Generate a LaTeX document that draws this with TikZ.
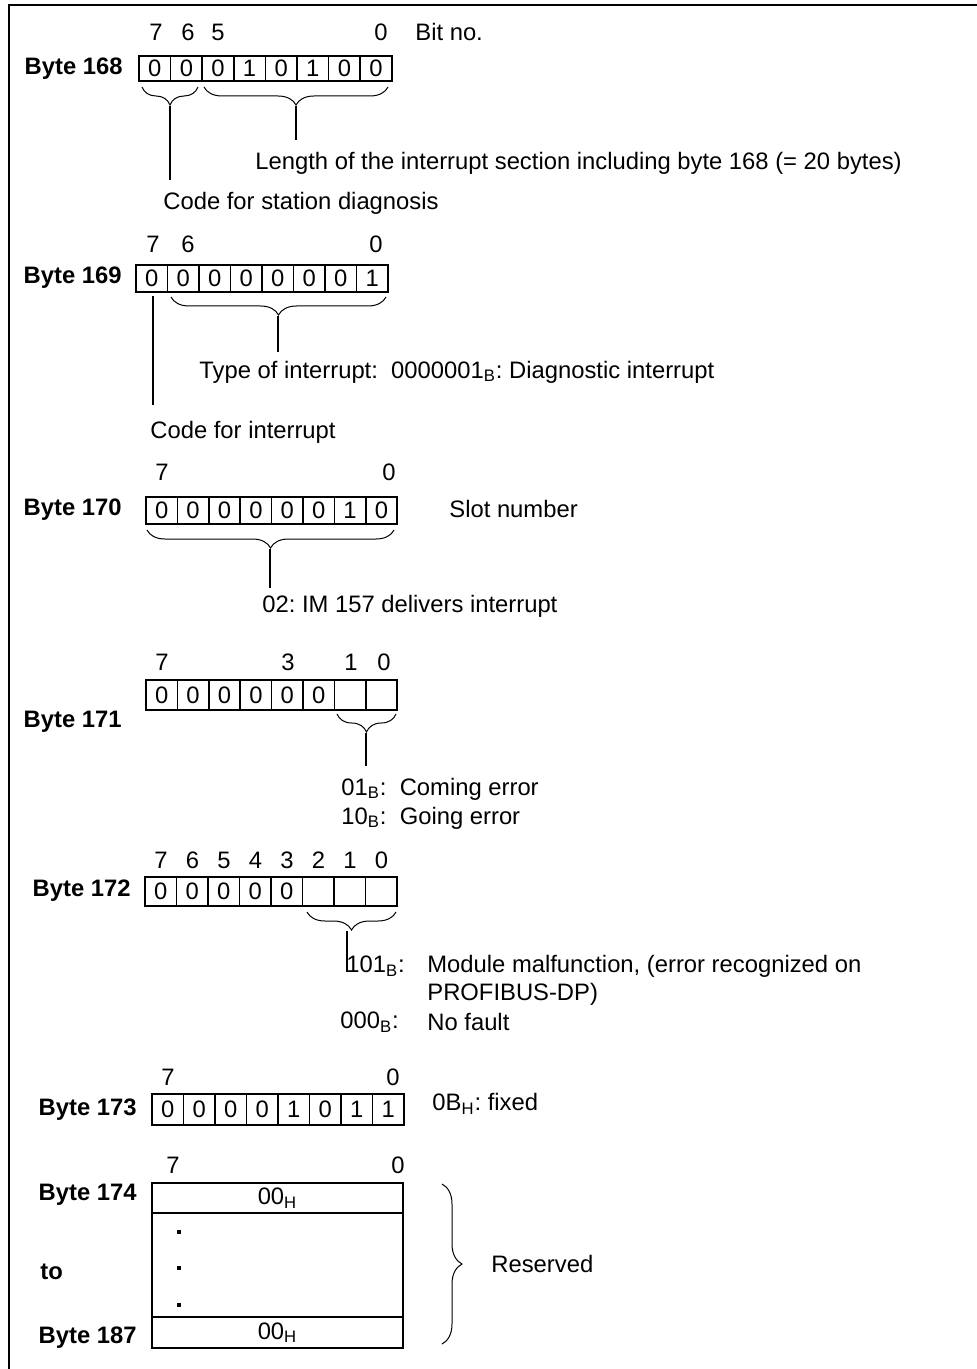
\documentclass[tikz,border=0pt]{standalone}
\usepackage{fontspec}
\setmainfont{Liberation Sans}
\usetikzlibrary{decorations.pathreplacing}
\frenchspacing
\newcommand{\diagfont}{\fontsize{11.9}{14}\selectfont}

\tikzset{
  bitcell/.style={draw, line width=0.75pt, inner sep=0pt, outer sep=0pt, anchor=north west},
  rowbox/.style={draw, line width=0.75pt, inner sep=0pt, outer sep=0pt, minimum width=125.5pt},
  bytelabel/.style={anchor=east, inner sep=0pt, font=\diagfont\bfseries},
  txt/.style={anchor=west, inner sep=0pt},
  bitno/.style={inner sep=0pt},
  curly/.style={decorate, decoration={brace, mirror, amplitude=9pt}, line width=0.5pt},
  lead/.style={line width=0.6pt},
  dotmark/.style={fill, inner sep=0pt, minimum size=1.8pt},
}

\begin{document}
\begin{tikzpicture}[x=0.5pt, y=-0.5pt, font=\diagfont]
    \useasboundingbox (0,0) rectangle (977,1369);
    % frame
    \draw[line width=1pt] (977,5) -- (9,5) -- (9,1369);

    % Byte 168
    \node[bytelabel] (lab168) at (123,69) {Byte 168};
    \foreach \b [count=\i from 0] in {0,0,0,1,0,1,0,0}
        \node[bitcell, minimum width=15.8pt, minimum height=12.5pt] (c168-\i) at ({139+31.6*\i},56) {\b};
    \node[bitno] (n168-7) at (156,32) {7};
    \node[bitno] (n168-6) at (188,32) {6};
    \node[bitno] (n168-5) at (218,32) {5};
    \node[bitno] (n168-0) at (381,32) {0};
    \node[txt] (bitnote) at (415,32) {Bit no.};
    \draw[curly] (142,87) -- (198,87);
    \draw[curly] (204,87) -- (388,87);
    \coordinate (tip168a) at (170,106);
    \coordinate (tip168b) at (296,106);
    \coordinate (end168a) at (170,180);
    \coordinate (end168b) at (296,140);
    \draw[lead] (tip168a) -- (end168a);
    \draw[lead] (tip168b) -- (end168b);
    \node[txt] (length) at (255,163) {Length of the interrupt section including byte 168 (= 20 bytes)};
    \node[txt] (station) at (163,203) {Code for station diagnosis};

    % Byte 169
    \node[bytelabel] (lab169) at (122,278) {Byte 169};
    \foreach \b [count=\i from 0] in {0,0,0,0,0,0,0,1}
        \node[bitcell, minimum width=15.75pt, minimum height=13.5pt] (c169-\i) at ({136+31.5*\i},265) {\b};
    \node[bitno] (n169-7) at (153,244) {7};
    \node[bitno] (n169-6) at (188,244) {6};
    \node[bitno] (n169-0) at (376,244) {0};
    \draw[curly] (171,297) -- (386,297);
    \coordinate (tip169) at (278,316);
    \coordinate (end169) at (278,352);
    \draw[lead] (tip169) -- (end169);
    \coordinate (top169) at (153,296);
    \coordinate (bot169) at (153,405);
    \draw[lead] (top169) -- (bot169);
    \node[txt] (type) at (199,372) {Type of interrupt:\ \ 0000001\textsubscript{B}: Diagnostic interrupt};
    \node[txt] (intcode) at (150,432) {Code for interrupt};

    % Byte 170
    \node[bytelabel] (lab170) at (122,510) {Byte 170};
    \foreach \b [count=\i from 0] in {0,0,0,0,0,0,1,0}
        \node[bitcell, minimum width=15.7pt, minimum height=13.5pt] (c170-\i) at ({146+31.4*\i},497) {\b};
    \node[bitno] (n170-7) at (162,472) {7};
    \node[bitno] (n170-0) at (389,472) {0};
    \node[txt] (slot) at (449,509) {Slot number};
    \draw[curly] (147,530) -- (394,530);
    \coordinate (tip170) at (270,549);
    \coordinate (end170) at (270,588);
    \draw[lead] (tip170) -- (end170);
    \node[txt] (im157) at (262,606) {02: IM 157 delivers interrupt};

    % Byte 171
    \node[bytelabel] (lab171) at (122,722) {Byte 171};
    \foreach \b [count=\i from 0] in {0,0,0,0,0,0,{},{}}
        \node[bitcell, minimum width=15.7pt, minimum height=15pt] (c171-\i) at ({146+31.4*\i},680) {\b};
    \node[bitno] (n171-7) at (162,662) {7};
    \node[bitno] (n171-3) at (288,662) {3};
    \node[bitno] (n171-1) at (351,662) {1};
    \node[bitno] (n171-0) at (384,662) {0};
    \draw[curly] (337,714) -- (396,714);
    \coordinate (tip171) at (366,733);
    \coordinate (end171) at (366,766);
    \draw[lead] (tip171) -- (end171);
    \node[txt] (coming) at (341,789) {01\textsubscript{B}:\ \ Coming error};
    \node[txt] (going) at (341,818) {10\textsubscript{B}:\ \ Going error};

    % Byte 172
    \node[bytelabel] (lab172) at (131,891) {Byte 172};
    \foreach \b [count=\i from 0] in {0,0,0,0,0,{},{},{}}
        \node[bitcell, minimum width=15.75pt, minimum height=14.5pt] (c172-\i) at ({145+31.5*\i},877) {\b};
    \foreach \n [count=\i from 0] in {7,6,5,4,3,2,1,0}
        \node[bitno] (n172-\n) at ({161+31.5*\i},860) {\n};
    \draw[curly] (307,912) -- (396,912);
    \coordinate (tip172) at (347,931);
    \coordinate (end172) at (347,972);
    \draw[lead] (tip172) -- (end172);
    \node[txt] (k101) at (346,966) {101\textsubscript{B}:};
    \node[txt] (d101) at (427,966) {Module malfunction, (error recognized on};
    \node[txt] (d101b) at (427,994) {PROFIBUS-DP)};
    \node[txt] (k000) at (340,1022) {000\textsubscript{B}:};
    \node[txt] (d000) at (427,1022) {No fault};

    % Byte 173
    \node[bytelabel] (lab173) at (137,1110) {Byte 173};
    \foreach \b [count=\i from 0] in {0,0,0,0,1,0,1,1}
        \node[bitcell, minimum width=15.75pt, minimum height=15.5pt] (c173-\i) at ({152+31.5*\i},1094) {\b};
    \node[bitno] (n173-7) at (168,1077) {7};
    \node[bitno] (n173-0) at (393,1077) {0};
    \node[txt] (fixed) at (432,1104) {0B\textsubscript{H}: fixed};

    % Byte 174 to 187
    \node[bitno] (n174-7) at (173,1165) {7};
    \node[bitno] (n174-0) at (398,1165) {0};
    \node[rowbox, minimum height=15pt] (r174) at (277.5,1198) {00\textsubscript{H}};
    \node[rowbox, minimum height=52pt] (rmid) at (277.5,1265) {};
    \node[rowbox, minimum height=15.5pt] (r187) at (277.5,1332.5) {00\textsubscript{H}};
    \node[dotmark] (dot1) at (179,1232) {};
    \node[dotmark] (dot2) at (179,1268) {};
    \node[dotmark] (dot3) at (179,1305) {};
    \node[bytelabel] (lab174) at (137,1195) {Byte 174};
    \node[txt, font=\diagfont\bfseries] (labto) at (40,1272) {to};
    \node[bytelabel] (lab187) at (137,1338) {Byte 187};
    \draw[decorate, decoration={brace, amplitude=10pt}, line width=0.5pt] (442,1184) -- (442,1344);
    \node[txt] (reserved) at (491,1264) {Reserved};
\end{tikzpicture}
\end{document}
